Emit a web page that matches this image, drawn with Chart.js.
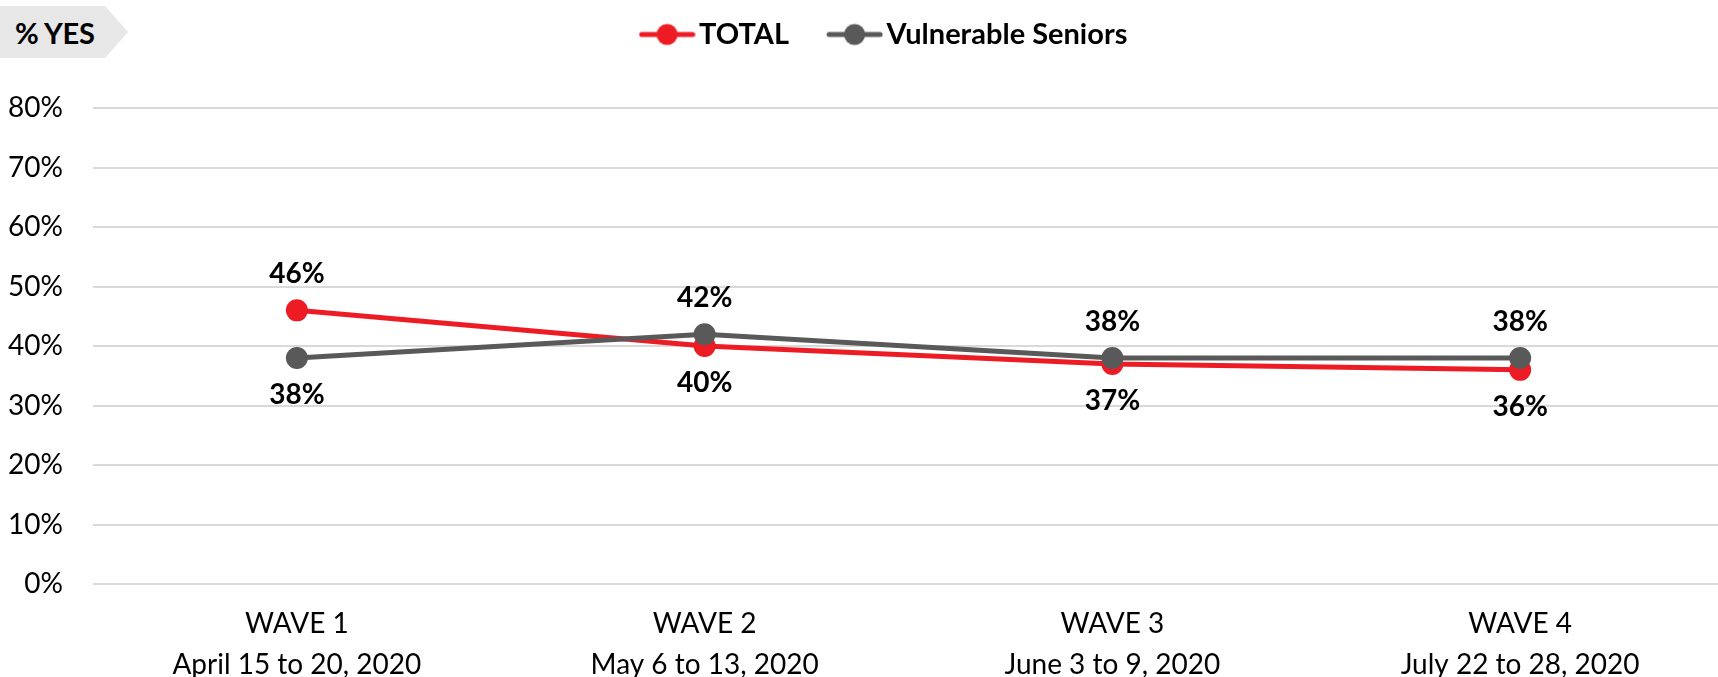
<!DOCTYPE html>
<html>
<head>
<meta charset="utf-8">
<script src="https://cdn.jsdelivr.net/npm/chart.js@4.4.1/dist/chart.umd.min.js"></script>
<style>
    html, body { margin: 0; padding: 0; background: #fff; }
    #wrap { position: relative; width: 1718px; height: 677px; overflow: hidden; }
    #graficoOlas { position: absolute; left: 0; top: 0; }
    #tag {
        position: absolute; left: 0; top: 6px; width: 128px; height: 52px;
        background: #E7E7E7;
        clip-path: polygon(0 0, 105px 0, 128px 26px, 105px 52px, 0 52px);
        font: bold 29px Lato, sans-serif; color: #000;
        line-height: 54px; box-sizing: border-box; padding-left: 15px;
        letter-spacing: -0.3px;
    }
</style>
</head>
<body>
<div id="wrap">
    <canvas id="graficoOlas" width="1735" height="697"></canvas>
    <div id="tag">% YES</div>
</div>
<script>
// datos
const waves = ['WAVE 1', 'WAVE 2', 'WAVE 3', 'WAVE 4'];
const waveDates = ['April 15 to 20, 2020', 'May 6 to 13, 2020', 'June 3 to 9, 2020', 'July 22 to 28, 2020'];
const totalValues = [46, 40, 37, 36];
const seniorsValues = [38, 42, 38, 38];
const seriesNames = ['TOTAL', 'Vulnerable Seniors'];
const yTicks = [0, 10, 20, 30, 40, 50, 60, 70, 80];

const RED = '#ED1C24';
const GREY = '#595959';

// marca de leyenda: línea con círculo en el medio
function legendMark(color) {
    const c = document.createElement('canvas');
    c.width = 57;
    c.height = 24;
    const g = c.getContext('2d');
    g.strokeStyle = color;
    g.lineWidth = 5;
    g.lineCap = 'round';
    g.beginPath();
    g.moveTo(3, 12);
    g.lineTo(54, 12);
    g.stroke();
    g.fillStyle = color;
    g.beginPath();
    g.arc(28.5, 12, 10.5, 0, Math.PI * 2);
    g.fill();
    return c;
}
const marks = [legendMark(RED), legendMark(GREY)];

// etiquetas de valor: la serie más alta arriba, la otra abajo
const valueLabels = {
    id: 'valueLabels',
    afterDatasetsDraw(chart) {
        const ctx = chart.ctx;
        ctx.save();
        ctx.font = 'bold 28px Lato';
        ctx.fillStyle = '#000';
        ctx.textAlign = 'center';
        ctx.textBaseline = 'middle';
        chart.data.datasets.forEach((ds, di) => {
            const other = chart.data.datasets[1 - di].data;
            chart.getDatasetMeta(di).data.forEach((pt, i) => {
                const up = ds.data[i] > other[i];
                ctx.fillText(ds.data[i] + '%', pt.x, pt.y + (up ? -36 : 37));
            });
        });
        ctx.restore();
    }
};

// espacio extra bajo la leyenda y leyenda un poco a la derecha
const legendGap = {
    id: 'legendGap',
    beforeInit(chart) {
        if (!chart.legend) return;
        const legend = chart.legend;
        const fit = legend.fit;
        legend.fit = function() {
            fit.call(this);
            this.height += 49;
        };
        const draw = legend.draw;
        legend.draw = function() {
            this.ctx.save();
            this.ctx.translate(22, 0);
            draw.call(this);
            this.ctx.restore();
        };
    }
};

const ctx = document.getElementById('graficoOlas');
new Chart(ctx, {
    type: 'line',
    data: {
        labels: waves.map((w, i) => [w, waveDates[i]]),
        datasets: [{
            label: seriesNames[0],
            data: totalValues,
            borderColor: RED,
            backgroundColor: RED,
            borderWidth: 5,
            pointRadius: 11,
            pointHoverRadius: 11,
            pointBorderWidth: 0,
            order: 2,
            tension: 0
        }, {
            label: seriesNames[1],
            data: seniorsValues,
            borderColor: GREY,
            backgroundColor: GREY,
            borderWidth: 5,
            pointRadius: 11,
            pointHoverRadius: 11,
            pointBorderWidth: 0,
            order: 1,
            tension: 0
        }]
    },
    options: {
        responsive: false,
        animation: false,
        devicePixelRatio: 1,
        layout: { padding: { top: -28, right: 2, left: 0, bottom: 0 } },
        plugins: {
            tooltip: { enabled: false },
            legend: {
                position: 'top',
                labels: {
                    usePointStyle: true,
                    pointStyleWidth: 35,
                    padding: 48,
                    color: '#000',
                    font: { family: 'Lato', size: 29, weight: 'bold' },
                    generateLabels(chart) {
                        const items = Chart.defaults.plugins.legend.labels.generateLabels(chart);
                        items.sort((a, b) => a.datasetIndex - b.datasetIndex);
                        items.forEach(it => { it.pointStyle = marks[it.datasetIndex]; });
                        return items;
                    }
                }
            }
        },
        scales: {
            x: {
                offset: true,
                grid: { display: false },
                border: { display: false },
                ticks: {
                    color: '#000',
                    font: { family: 'Lato', size: 28, lineHeight: 1.48 },
                    padding: 11,
                    maxRotation: 0,
                    autoSkip: false
                }
            },
            y: {
                min: yTicks[0],
                max: yTicks[yTicks.length - 1],
                afterBuildTicks(scale) {
                    scale.ticks = yTicks.map(v => ({ value: v }));
                },
                afterFit(scale) {
                    scale.width = 93;
                },
                grid: { color: '#D9D9D9', lineWidth: 2, drawTicks: false },
                border: { display: false },
                ticks: {
                    color: '#000',
                    font: { family: 'Lato', size: 28 },
                    padding: 30,
                    callback: v => v + '%'
                }
            }
        }
    },
    plugins: [valueLabels, legendGap]
});
</script>
</body>
</html>
